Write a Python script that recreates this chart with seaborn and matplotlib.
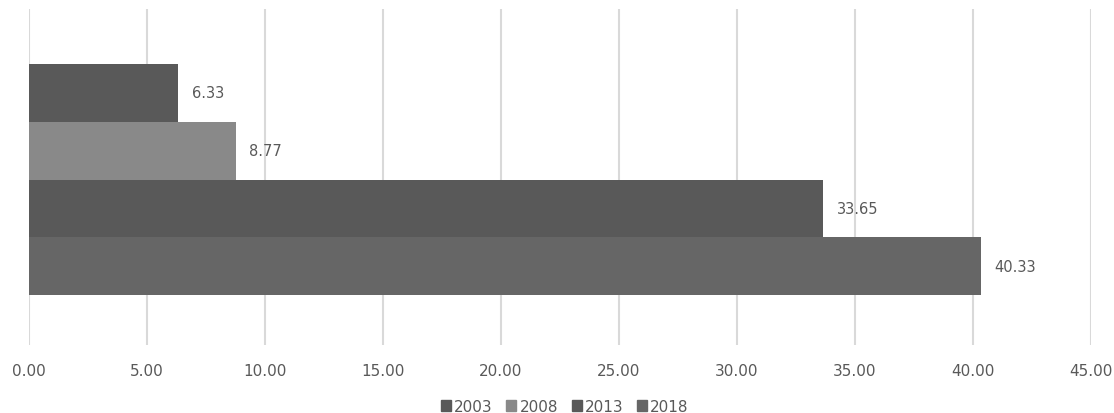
import matplotlib
matplotlib.use("Agg")
import matplotlib.pyplot as plt
import pandas as pd
import seaborn as sns

years = ["2003", "2008", "2013", "2018"]
values = [6.33, 8.77, 33.65, 40.33]
colors = ["#595959", "#898989", "#595959", "#666666"]
x_ticks = [0, 5, 10, 15, 20, 25, 30, 35, 40, 45]

df = pd.DataFrame({"cat": ["A"] * len(years), "year": years, "value": values})

sns.set_style("white")
plt.rcParams["font.family"] = ["DejaVu Sans"]
text_color = "#595959"

fig = plt.figure(figsize=(11.14, 4.14), dpi=100)
ax = fig.add_axes([0.0256, 0.164, 0.9538, 0.812])

sns.barplot(data=df, x="value", y="cat", hue="year", orient="h",
            palette=colors, width=0.6875, saturation=1, linewidth=0,
            ax=ax, legend=False)

for cont in ax.containers:
    ax.bar_label(cont, fmt="%.2f", padding=10, color=text_color, fontsize=10.5)

ax.set_xlim(0, 45)
ax.set_ylim(0.4926, -0.5074)
ax.set_xticks(x_ticks)
ax.set_xticklabels([f"{t:.2f}" for t in x_ticks], color=text_color, fontsize=11)
ax.tick_params(axis="x", length=0, pad=13)
ax.set_yticks([])
ax.set_xlabel("")
ax.set_ylabel("")
ax.grid(axis="x", color="#d9d9d9", linewidth=1.5)
ax.set_axisbelow(True)
for s in ax.spines.values():
    s.set_visible(False)

handles = [plt.Rectangle((0, 0), 1, 1, color=c) for c in colors]
fig.legend(handles, years, loc="center", bbox_to_anchor=(0.507, 0.016),
           ncol=4, frameon=False, handlelength=0.65, handleheight=0.65,
           handletextpad=0.2, columnspacing=0.9, labelcolor=text_color,
           fontsize=11, borderpad=0, borderaxespad=0)

fig.savefig("out.png", dpi=100)
